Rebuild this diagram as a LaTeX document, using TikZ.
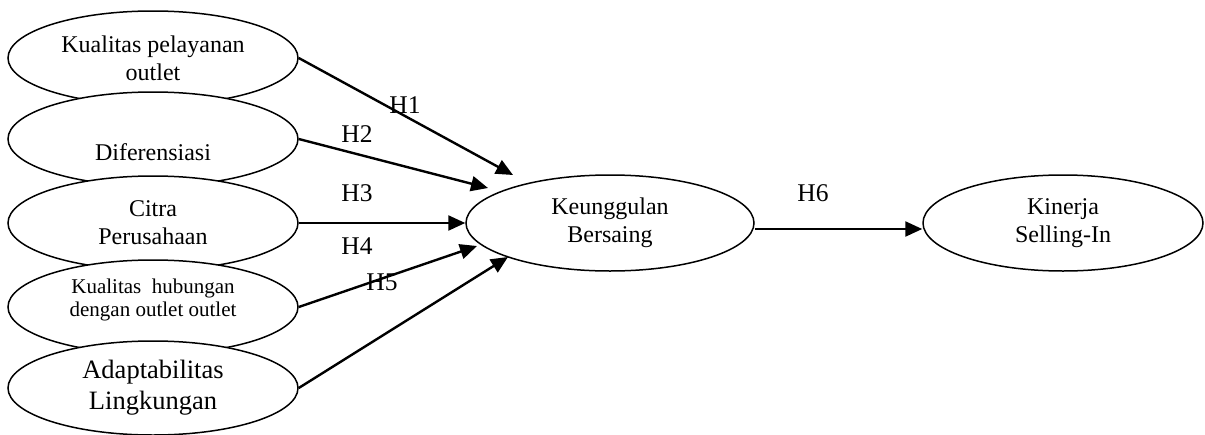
\documentclass[tikz,border=0pt]{standalone}
\usepackage{fontspec}
\setmainfont{Liberation Serif}
\usetikzlibrary{shapes.geometric,arrows.meta}
\begin{document}
\begin{tikzpicture}[x=1pt,y=-1pt,
  var/.style={ellipse,draw,fill=white,line width=1.5pt,minimum width=290pt,minimum height=94pt,inner sep=0pt,align=center,font=\fontsize{24}{28}\selectfont},
  arr/.style={line width=2.4pt,-{Triangle[length=17pt,width=15pt]}},
  lab/.style={font=\fontsize{25.5}{30}\selectfont,inner sep=0pt}]
\useasboundingbox (0,0) rectangle (1205,434);
\node[var] (e1) at (153,58) {Kualitas pelayanan\\outlet};
\node[var] (e2) at (153,139) {\phantom{D}\\Diferensiasi};
\node[var] (e3) at (153,223) {Citra\\Perusahaan};
\node[var,font=\fontsize{21}{23}\selectfont] (e4) at (153,307) {Kualitas~~hubungan\\dengan outlet outlet\\[-4pt]\mbox{}};
\node[var,font=\fontsize{26.5}{31}\selectfont] (e5) at (153,388) {Adaptabilitas\\Lingkungan};
\node[var,minimum width=288pt,minimum height=96pt] (k) at (610,223) {Keunggulan\\Bersaing};
\node[var,minimum width=280pt,minimum height=96pt] (s) at (1063,223) {Kinerja\\Selling-In};
\draw[arr] (e1.east) -- ([shift={(-97,-48)}]k.center);
\draw[arr] (e2.east) -- ([shift={(-122,-35)}]k.center);
\draw[arr] (e3.east) -- (k.west);
\draw[arr] (e4.east) -- ([shift={(-133,23)}]k.center);
\draw[arr] (e5.east) -- ([shift={(-102,34)}]k.center);
\draw[arr] ([yshift=-6pt]k.east) -- ([yshift=-6pt]s.west);
\node[lab] (h1) at (405,105) {H1};
\node[lab] (h2) at (357,134) {H2};
\node[lab] (h3) at (357,193) {H3};
\node[lab] (h4) at (357,246) {H4};
\node[lab] (h5) at (382,282) {H5};
\node[lab] (h6) at (813,193) {H6};
\end{tikzpicture}
\end{document}
